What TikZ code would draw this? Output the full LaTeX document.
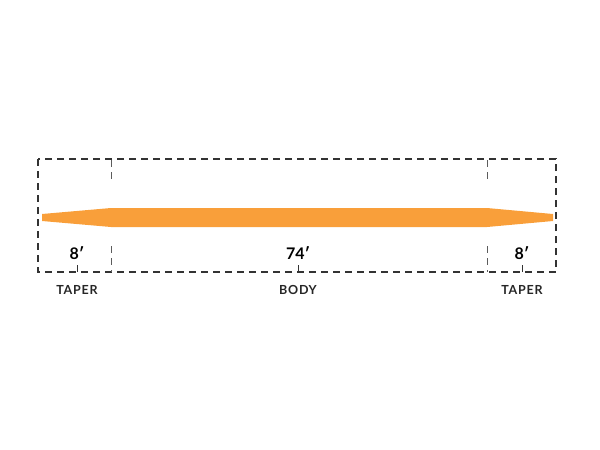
\documentclass[tikz,border=0pt]{standalone}
\usepackage{fontspec}
\setmainfont{Lato}
\newfontfamily\spacedfont[LetterSpace=6]{Lato}
\definecolor{lineorange}{HTML}{F99F3A}
\definecolor{boxgray}{HTML}{333333}
\begin{document}
\begin{tikzpicture}[x=1pt,y=-1pt,
  boxline/.style={draw=boxgray,line width=1.2pt,dash pattern=on 7pt off 5pt},
  divline/.style={draw=boxgray!80,line width=0.9pt,dash pattern=on 7pt off 5pt},
  tickline/.style={draw=boxgray,line width=0.9pt},
  numlabel/.style={font=\fontsize{16}{18}\selectfont\bfseries,text=black,inner sep=0pt},
  namelabel/.style={font=\spacedfont\fontsize{12.5}{14}\selectfont\bfseries,text=black!85,inner sep=0pt}]
\useasboundingbox (0,0) rectangle (600,450);
% dashed frame
\draw[boxline] (38,159) rectangle (556,272);
% dividers
\draw[divline] (111,160) -- (111,183);
\draw[divline] (111,246) -- (111,272);
\draw[divline] (487,160) -- (487,183);
\draw[divline] (487,246) -- (487,272);
% fly line
\fill[lineorange] (42,214) -- (111,208) -- (487,208) -- (553,214) -- (553,221) -- (487,227) -- (111,227) -- (42,221) -- cycle;
% labels
\node[numlabel] (n1) at (77,253) {8′};
\node[numlabel] (n2) at (298,253) {74′};
\node[numlabel] (n3) at (522,253) {8′};
\coordinate (b1) at (77,272);
\coordinate (b2) at (298,272);
\coordinate (b3) at (522,272);
\draw[tickline] (b1) -- ++(0,-7);
\draw[tickline] (b2) -- ++(0,-7);
\draw[tickline] (b3) -- ++(0,-7);
\node[namelabel] (t1) at (77,290) {TAPER};
\node[namelabel] (t2) at (298,290) {BODY};
\node[namelabel] (t3) at (522,290) {TAPER};
\end{tikzpicture}
\end{document}
